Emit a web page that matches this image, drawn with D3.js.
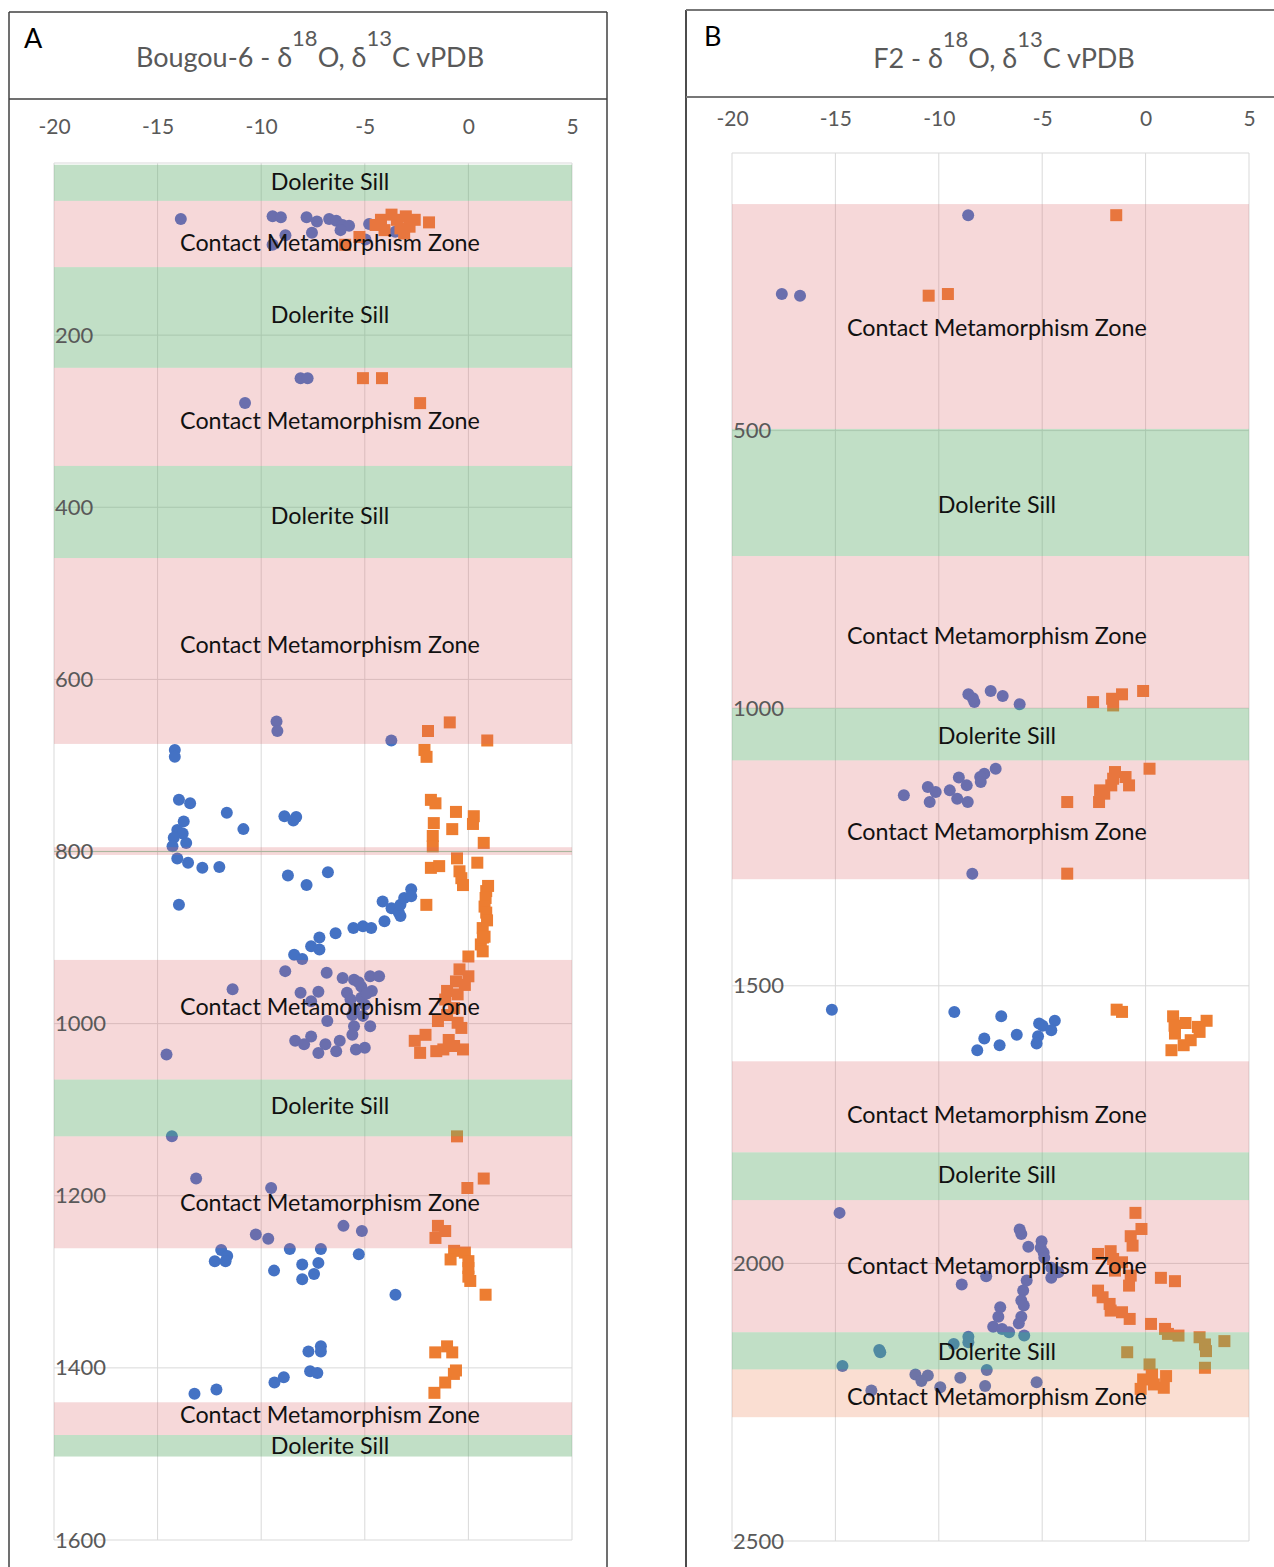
<!DOCTYPE html>
<html><head><meta charset="utf-8">
<script src="https://cdn.jsdelivr.net/npm/d3@7/dist/d3.min.js"></script>
<style>
body{margin:0;background:#fff}
svg{display:block}
text{font-family:Lato,"Open Sans",sans-serif}
</style>
</head><body>
<svg id="c" width="1274" height="1567"></svg>
<script>
// ---------------- DATA ----------------
const xTicks = [-20, -15, -10, -5, 0, 5];
const yTicksA = [200, 400, 600, 800, 1000, 1200, 1400, 1600];
const yTicksB = [500, 1000, 1500, 2000, 2500];
const labelDolerite = "Dolerite Sill";
const labelContact = "Contact Metamorphism Zone";

// bands: [kind, topDepth, bottomDepth, labelDepth]  D = dolerite, C = contact zone, P = contact zone (peach)
const bandsA = [
  ["D", 2, 44, 22], ["C", 44, 121, 93], ["D", 121, 238, 176], ["C", 238, 352, 300],
  ["D", 352, 459, 410], ["C", 459, 675, 560], ["C", 795, 804, null], ["D", 799.3, 800.7, null],
  ["C", 926, 1065, 981], ["D", 1065, 1131, 1096], ["C", 1131, 1261, 1208],
  ["C", 1440, 1478, 1455], ["D", 1478, 1503, 1491]
];
const bandsB = [
  ["C", 92, 497, 315], ["D", 497, 726, 634], ["C", 726, 1000, 870], ["D", 1000, 1094, 1049],
  ["C", 1094, 1308, 1222], ["C", 1636, 1800, 1733], ["D", 1800, 1886, 1840],
  ["C", 1886, 2124, 2005], ["D", 2124, 2191, 2159], ["P", 2191, 2277, 2241]
];

// δ18O (circles) and δ13C (squares): [value ‰, depth m]
const o18A = [
  [-13.88,65],[-9.45,62],[-9.05,63],[-7.81,63],[-7.31,68],[-6.72,65],[-6.38,67],[-6.07,72],[-5.76,73],[-6.17,78],
  [-8.83,84],[-7.55,81],[-9.45,95],[-4.79,71],[-3.53,80],[-4.97,89],
  [-8.1,250],[-7.76,250],[-10.78,279],
  [-9.26,649],[-9.22,660],[-3.72,671],
  [-14.17,682],[-14.17,690],[-13.97,740],[-13.43,744],[-13.74,765],[-14.05,775],[-13.79,779],[-13.62,790],[-14.22,784],
  [-14.28,794],[-14.05,808],[-13.53,813],[-12.84,819],[-12.02,818],[-11.66,755],[-10.86,774],[-13.97,862],
  [-8.88,759],[-8.45,764],[-8.31,760],[-8.71,828],[-7.81,839],[-6.78,824],
  [-8.41,920],[-7.59,910],[-7.19,900],[-7.19,914],[-6.41,895],[-5.55,889],[-5.09,887],[-4.69,889],[-4.05,881],
  [-4.14,858],[-3.71,866],[-3.36,871],[-3.28,862],[-3.10,854],[-2.76,844],[-2.76,852],[-3.28,875],
  [-8.02,925],[-8.84,939],[-6.84,941],[-11.38,960],[-6.07,947],[-5.52,949],[-4.74,945],[-4.31,945],[-8.10,964],
  [-7.24,963],[-7.59,974],[-5.86,964],[-5.17,957],[-5.69,972],[-5.17,970],[-4.66,962],[-5.52,984],[-5.09,991],
  [-6.81,997],[-5.52,1003],[-4.74,1003],[-5.60,1013],[-8.36,1020],[-7.59,1015],[-7.93,1024],[-6.90,1024],
  [-7.24,1034],[-6.38,1032],[-6.21,1020],[-5.43,1030],[-5.0,1028],[-14.57,1036],[-5.3,952],[-5.0,978],[-5.6,990],[-4.9,965],
  [-14.31,1131],[-13.14,1180],[-9.52,1191],[-10.26,1245],[-9.66,1250],[-6.03,1235],[-5.14,1241],
  [-8.62,1262],[-7.12,1262],[-11.93,1263],
  [-11.64,1270],[-12.24,1276],[-11.72,1276],[-9.38,1287],[-8.02,1280],[-7.24,1278],[-7.45,1291],[-8.02,1297],
  [-5.29,1268],[-3.52,1315],[-7.12,1375],[-7.12,1381],[-7.72,1381],[-7.64,1404],[-7.29,1406],[-8.91,1411],
  [-9.36,1417],[-12.16,1425],[-13.22,1430]
];
const c13A = [
  [-4.22,66],[-3.71,60],[-3.45,66],[-3.02,62],[-2.59,66],[-1.90,69],[-4.05,78],[-3.28,76],[-2.84,74],[-3.10,82],
  [-5.26,86],[-5.95,95],[-4.48,72],
  [-5.09,250],[-4.17,250],[-2.33,279],
  [-1.95,660],[-0.90,650],[0.91,671],
  [-2.12,682],[-2.02,690],[-1.81,740],[-1.59,744],[-0.60,754],[0.26,759],[0.22,768],[-1.67,767],[-1.72,782],
  [-0.78,774],[-1.72,794],[0.74,790],[-0.55,808],[0.43,813],[-1.81,819],[-1.41,817],[-0.43,823],[-0.34,831],
  [-0.26,839],[-2.03,862],[0.86,846],[0.83,854],[0.78,864],[0.86,871],[0.69,889],[0.78,899],[0.60,908],
  [0.69,916],[0.95,840],[0.0,922],[0.9,880],[0.7,900],
  [-0.43,937],[0.0,945],[-0.60,951],[-0.17,955],[-1.03,962],[-0.52,966],[-1.12,972],[-0.69,982],[-1.03,990],
  [-1.47,997],[-0.52,999],[-0.34,1005],[-2.59,1020],[-2.07,1013],[-2.33,1034],[-1.55,1032],[-0.95,1019],
  [-0.69,1026],[-0.26,1030],[-1.21,1030],
  [-0.55,1131],[0.74,1180],[-0.05,1191],[-1.47,1235],[-1.12,1241],[-1.59,1249],
  [-0.69,1264],[-0.86,1274],[-0.17,1266],[0.0,1276],[0.0,1284],[0.0,1294],[0.09,1299],[0.83,1315],
  [-1.60,1382],[-1.03,1375],[-0.78,1382],[-0.60,1403],[-0.70,1407],[-1.12,1417],[-1.64,1429]
];
const o18B = [
  [-8.58,112],[-17.59,254],[-16.71,257],
  [-8.57,975],[-8.28,989],[-8.35,982],[-7.49,969],[-6.91,978],[-6.09,993],
  [-7.25,1109],[-7.80,1118],[-8.0,1124],[-7.97,1133],[-9.03,1125],[-8.65,1139],[-9.47,1148],[-10.53,1142],
  [-10.15,1151],[-11.69,1157],[-10.44,1169],[-9.11,1163],[-8.60,1169],[-8.38,1298],
  [-15.17,1543],[-9.25,1547],[-6.98,1555],[-7.80,1595],[-8.14,1616],[-7.06,1607],[-6.23,1588],[-5.15,1568],
  [-4.98,1572],[-4.39,1563],[-4.56,1580],[-5.20,1591],[-5.27,1604],
  [-14.80,1909],[-6.01,1947],[-6.09,1939],[-5.03,1960],[-5.07,1972],[-5.67,1970],[-4.93,1981],[-4.90,1990],
  [-4.56,2008],[-4.22,2016],[-4.56,2026],[-5.75,2031],[-7.71,2023],[-8.89,2038],[-5.92,2049],[-6.01,2067],
  [-5.89,2076],[-7.03,2079],[-7.12,2096],[-6.01,2096],[-6.13,2108],[-7.37,2114],[-6.94,2118],[-6.60,2124],
  [-8.57,2132],[-8.57,2142],[-9.28,2145],[-5.87,2130],[-12.88,2156],[-12.83,2160],[-14.66,2185],[-7.68,2192],
  [-11.13,2200],[-10.53,2202],[-10.84,2212],[-8.96,2206],[-9.93,2223],[-7.76,2221],[-5.27,2214],[-13.26,2229]
];
const c13B = [
  [-1.42,112],[-10.49,257],[-9.56,254],
  [-2.54,989],[-1.62,983],[-1.57,995],[-1.14,975],[-0.12,969],
  [0.19,1109],[-1.48,1115],[-0.97,1124],[-1.57,1127],[-1.66,1139],[-0.80,1139],[-2.20,1148],[-2.0,1154],
  [-2.25,1169],[-3.79,1169],[-3.79,1298],
  [-1.40,1543],[-1.14,1547],[1.33,1555],[1.93,1567],[1.42,1586],[2.53,1574],[2.95,1563],[2.61,1583],
  [2.18,1598],[1.84,1607],[1.25,1616],[1.4,1572],
  [-0.49,1909],[-0.20,1938],[-0.72,1951],[-0.63,1968],[-2.30,1983],[-1.69,1978],[-1.57,1992],[-1.14,1998],
  [-1.48,2013],[-0.72,2022],[-0.80,2040],[0.74,2026],[1.42,2032],[-2.30,2049],[-2.08,2061],[-1.74,2073],
  [-1.69,2085],[-1.14,2088],[-0.77,2100],[0.26,2109],[0.94,2118],
  [1.59,2130],[1.08,2127],[2.61,2133],[2.87,2146],[2.92,2158],[3.81,2140],[-0.89,2160],[2.87,2188],[0.19,2182],
  [0.31,2200],[0.99,2203],[-0.12,2209],[0.40,2218],[0.88,2224],[-0.24,2226]
];

// ---------------- DRAW ----------------
const bandFill = {D: "rgba(100,175,112,0.40)", C: "rgba(219,99,103,0.25)", P: "rgba(236,122,76,0.25)"};
const bandText = {D: labelDolerite, C: labelContact, P: labelContact};
const svg = d3.select("#c");

function panel(cfg) {
  const x = d3.scaleLinear().domain([-20, 5]).range([cfg.x0, cfg.x1]);
  const y = d3.scaleLinear().domain([0, cfg.yMax]).range([cfg.y0, cfg.y1]);
  const g = svg.append("g");

  // frame
  const fr = g.append("g");
  fr.append("line").attr("x1", cfg.fx0).attr("x2", cfg.fx0).attr("y1", cfg.fy0).attr("y2", 1567)
    .attr("stroke", cfg.frameLeft).attr("stroke-width", 1.5);
  if (cfg.fx1) fr.append("line").attr("x1", cfg.fx1).attr("x2", cfg.fx1).attr("y1", cfg.fy0).attr("y2", 1567)
    .attr("stroke", cfg.frameLeft).attr("stroke-width", 1.5);
  fr.append("line").attr("x1", cfg.fx0).attr("x2", cfg.fx1 || 1274).attr("y1", cfg.fy0).attr("y2", cfg.fy0)
    .attr("stroke", cfg.frameTop).attr("stroke-width", cfg.frameTopW);
  fr.append("line").attr("x1", cfg.fx0).attr("x2", cfg.fx1 || 1274).attr("y1", cfg.fdiv).attr("y2", cfg.fdiv)
    .attr("stroke", cfg.frameTop).attr("stroke-width", cfg.frameTopW);

  // gridlines
  g.append("g").selectAll("line").data(xTicks).join("line")
    .attr("x1", d => x(d)).attr("x2", d => x(d)).attr("y1", y(0)).attr("y2", y(cfg.yMax))
    .attr("stroke", "#d9d9d9").attr("stroke-width", 1);
  g.append("g").selectAll("line").data([0].concat(cfg.yTicks)).join("line")
    .attr("x1", x(-20)).attr("x2", x(5)).attr("y1", d => y(d)).attr("y2", d => y(d))
    .attr("stroke", "#d9d9d9").attr("stroke-width", 1);

  // markers
  g.append("g").selectAll("circle").data(cfg.o18).join("circle")
    .attr("cx", d => x(d[0])).attr("cy", d => y(d[1])).attr("r", 6).attr("fill", "#4472C4");
  const s = 12;
  g.append("g").selectAll("rect").data(cfg.c13).join("rect")
    .attr("x", d => x(d[0]) - s / 2).attr("y", d => y(d[1]) - s / 2).attr("width", s).attr("height", s)
    .attr("fill", "#ED7D31");

  // bands (semi-transparent overlay)
  g.append("g").selectAll("rect").data(cfg.bands).join("rect")
    .attr("x", x(-20)).attr("width", x(5) - x(-20))
    .attr("y", d => y(d[1])).attr("height", d => y(d[2]) - y(d[1]))
    .attr("fill", d => bandFill[d[0]]);

  // y axis labels
  const ya = g.append("g").attr("transform", `translate(${x(-20)},0)`)
    .call(d3.axisRight(y).tickValues(cfg.yTicks).tickSize(0).tickPadding(1).tickFormat(d => String(d)));
  ya.select(".domain").remove();
  ya.selectAll("text").attr("fill", "#595959").style("font-size", "22px")
    .style("font-family", "Lato, 'Open Sans', sans-serif");

  // x axis labels
  const xa = g.append("g").attr("transform", `translate(0,${cfg.xLabelY})`)
    .call(d3.axisTop(x).tickValues(xTicks).tickSize(0).tickPadding(0).tickFormat(d => String(d)));
  xa.select(".domain").remove();
  xa.selectAll("text").attr("fill", "#595959").style("font-size", "21px")
    .attr("dy", "0.35em").style("font-family", "Lato, 'Open Sans', sans-serif");

  // band labels
  g.append("g").selectAll("text").data(cfg.bands.filter(d => d[3] != null)).join("text")
    .attr("x", x(cfg.labelX)).attr("y", d => y(d[3])).attr("dy", "0.35em")
    .attr("text-anchor", "middle").attr("fill", "#111").style("font-size", "23.3px")
    .text(d => bandText[d[0]]);

  // panel letter
  g.append("text").attr("x", cfg.letterX).attr("y", cfg.letterY).attr("fill", "#000")
    .style("font-size", "27px").text(cfg.letter);

  // title
  const t = g.append("text").attr("x", cfg.titleX).attr("y", cfg.titleY).attr("text-anchor", "middle")
    .attr("fill", "#595959").style("font-size", "27px");
  t.append("tspan").text(cfg.titleName + " - δ");
  t.append("tspan").attr("dy", -21).style("font-size", "22px").text("18");
  t.append("tspan").attr("dy", 21).text("O, δ");
  t.append("tspan").attr("dy", -21).style("font-size", "22px").text("13");
  t.append("tspan").attr("dy", 21).text("C vPDB");
}

panel({
  x0: 54, x1: 572, y0: 163, y1: 1540, yMax: 1600, yTicks: yTicksA, xLabelY: 127,
  fx0: 9, fx1: 607, fy0: 12, fdiv: 99, frameLeft: "#404040", frameTop: "#404040", frameTopW: 1.5,
  o18: o18A, c13: c13A, bands: bandsA, labelX: -6.68,
  letter: "A", letterX: 24, letterY: 48, titleName: "Bougou-6", titleX: 310, titleY: 67
});
panel({
  x0: 732, x1: 1249, y0: 153, y1: 1541, yMax: 2500, yTicks: yTicksB, xLabelY: 119,
  fx0: 686, fx1: null, fy0: 10, fdiv: 97, frameLeft: "#111", frameTop: "#777", frameTopW: 2,
  o18: o18B, c13: c13B, bands: bandsB, labelX: -7.19,
  letter: "B", letterX: 704, letterY: 46, titleName: "F2", titleX: 1004, titleY: 68
});
</script>
</body></html>
